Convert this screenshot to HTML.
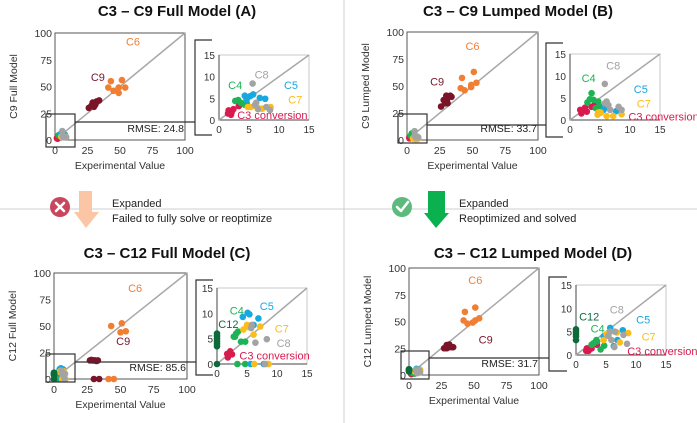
<!DOCTYPE html>
<html><head><meta charset="utf-8"><style>
html,body{margin:0;padding:0;background:#fff;}
svg{display:block;font-family:"Liberation Sans",Arial,sans-serif;}
</style></head><body>
<svg id="fig" width="697" height="423" viewBox="0 0 697 423" xmlns="http://www.w3.org/2000/svg">
<line x1="344" y1="0" x2="344" y2="423" stroke="#cfcfcf" stroke-width="1"/>
<line x1="0" y1="209" x2="697" y2="209" stroke="#cfcfcf" stroke-width="1"/>
<g>
<circle cx="60" cy="207" r="10" fill="#c8465e"/>
<path d="M56 203 L64 211 M64 203 L56 211" stroke="#fff" stroke-width="2.6" stroke-linecap="round"/>
<path d="M79 191 H92 V212 H99 L86 228 L74 212 H79 Z" fill="#fbc6a6"/>
<text x="112" y="207" font-size="11" fill="#222">Expanded</text>
<text x="112" y="222" font-size="11" fill="#222">Failed to fully solve or reoptimize</text>
</g>
<g>
<circle cx="402" cy="207" r="10" fill="#5cba7d"/>
<path d="M397 207 L401 211 L408 202" stroke="#fff" stroke-width="2.6" fill="none" stroke-linecap="round" stroke-linejoin="round"/>
<path d="M428 191 H445 V213 H449 L436 228 L424 213 H428 Z" fill="#0bb04f"/>
<text x="459" y="207" font-size="11" fill="#222">Expanded</text>
<text x="459" y="222" font-size="11" fill="#222">Reoptimized and solved</text>
</g>
</svg>
<script>
// ---------- DATA ----------
const mainTicks = [0,25,50,75,100];
const insetTicks = [0,5,10,15];
const panelTitles = ["C3 – C9 Full Model (A)","C3 – C9 Lumped Model (B)","C3 – C12 Full Model (C)","C3 – C12 Lumped Model (D)"];
const yTitles = ["C9 Full Model","C9 Lumped Model","C12 Full Model","C12 Lumped Model"];
const rmseValues = ["24.8","33.7","85.6","31.7"];

const A_C6 = [[43,55],[41,49],[45,46],[49,49],[49,44],[51.5,56],[54,49]];
const A_C9 = [[26,30],[28,32],[29,35],[31,33],[32,36],[34,37],[30,31]];
const A_C3 = [[1.5,1.5],[1.6,2.2],[2.1,1.8],[2.4,2.5],[3.3,3.2],[2,1.2]];
const A_C4 = [[2.7,4.4],[3.2,4.6],[3.7,3.9],[4.3,3.5],[4.6,3.9]];
const A_C5 = [[4.3,5.6],[5.2,5.5],[5.7,5.9],[6.8,5.1],[7.7,4.9],[4.6,4.7]];
const A_C7 = [[4.8,3.0],[5.3,3.0],[6.1,3.2],[6.5,2.8],[7.2,2.6],[8.6,3.0]];
const A_C8 = [[5.6,8.4],[6.2,4],[6.5,2.5],[7.9,3],[8.5,2.3],[6,3.5]];

const B_C6 = [[42,57.5],[41,48],[44,46],[49,49],[49,51],[51,63],[53,53]];
const B_C9 = [[26,31],[29,37],[30,41],[33,41],[31,34],[28,37],[34,40],[30.5,37],[29,34]];
const B_C3 = [[1.7,2.3],[1.9,1.5],[2.5,2.8],[2.8,1.9],[3.6,3],[4.2,3.6],[2.2,2.1]];
const B_C4 = [[3.6,6.1],[3.3,4.7],[2.9,4],[4.7,4.2],[4.3,2.7],[4.9,3.2],[3.9,4.6]];
const B_C5 = [[5.6,2.3],[7.7,2],[5.1,1.7],[5.8,2.8]];
const B_C7 = [[4.6,1.2],[5.1,1.7],[6.1,0.9],[7.2,0.9],[8.6,1.3],[4.7,1.7]];
const B_C8 = [[5.8,8.2],[6.1,4.2],[6.4,3.4],[8.1,3],[8.6,2.3],[6.7,2.3],[5.8,3.8]];

const C_C6 = [[43,50],[51,52.5],[50,44],[54,45],[41,0],[45,0]];
const C_C9 = [[27,17.5],[29,17.5],[30,17.5],[31,17.5],[32,17],[28,18],[33,17.5],[30,0],[34,0]];
const C_C3 = [[1.7,2],[2.2,2.5],[1.8,1.3],[2.5,1.9]];
const C_C4 = [[2.8,5.4],[3.2,6],[3.5,6.4],[4,4.4],[4.7,4.4],[3,5.4],[3.4,0],[4.7,0]];
const C_C5 = [[4.3,9.3],[5.1,10.1],[5.4,9.8],[6.9,9],[6.1,7.7],[5.6,0],[7.8,0]];
const C_C7 = [[5,7.7],[5.3,7.3],[4.4,6.8],[6.1,5.8],[7.2,7.4],[6.2,0],[8.3,0],[8.6,0]];
const C_C8 = [[5.8,7.7],[5.7,7.1],[6.4,4.2],[8.3,4.9],[8,0]];
const C_C12 = [[0,3.5],[0,4],[0,4.5],[0,5],[0,5.5],[0,6],[0,0]];

const D_C6 = [[43,59],[42,51],[45,48],[49,49],[51,51],[51,63],[54,53]];
const D_C9 = [[27,25],[29,28],[31,26],[33,26],[34,26],[29,25],[31,28.5]];
const D_C3 = [[1.8,1.4],[2.1,0.9],[2.6,1.4],[1.7,0.9],[3.5,2.2]];
const D_C4 = [[3.4,3.2],[2.9,2.5],[2.6,2.2],[4.1,1.2],[4.7,2],[3.5,2.9]];
const D_C5 = [[5.7,5.8],[7.8,5.3],[6.9,3.2],[6.3,1.9],[4.6,4]];
const D_C7 = [[5.1,4.5],[6.8,4.8],[8.7,4.7],[7.3,2.7],[4.6,3.2]];
const D_C8 = [[5.7,5],[6.5,5],[5.9,3.2],[7.9,4.3],[8.5,2.4],[6.4,1.7],[5.4,4.1]];
const D_C12 = [[0,5.5],[0,5],[0,4.5],[0,4],[0,3.2]];

const colors = {C6:"#f07f34",C9:"#7b1428",C3:"#d91a4f",C4:"#1db354",C5:"#17a8e0",C7:"#fbbd1c",C8:"#a3a3a3",C12:"#0d6b3b"};

// ---------- LAYOUT ----------
const panels = [
 {key:"A", tx:177, ty:16, m:{x0:55,x1:185,y0:140,y1:33}, zb:[46,114,75,147], conY:122, br:[195,40,212,135], ins:{x0:219,x1:309,y0:120,y1:55},
  series:{C6:A_C6,C9:A_C9,C3:A_C3,C4:A_C4,C5:A_C5,C7:A_C7,C8:A_C8},
  mainLabels:{C6:[60,92],C9:[33,59]}, insLabels:{C8:[7.1,10.5],C4:[2.7,8.1],C5:[12,8.1],C7:[12.7,4.7],C3:[8.9,1.1]}},
 {key:"B", tx:518, ty:16, m:{x0:407,x1:538,y0:140,y1:32}, zb:[398,114,427,143], conY:125, br:[546,43,563,137], ins:{x0:570,x1:660,y0:120,y1:54},
  series:{C6:B_C6,C9:B_C9,C3:B_C3,C4:B_C4,C5:B_C5,C7:B_C7,C8:B_C8},
  mainLabels:{C6:[50,87],C9:[23,54]}, insLabels:{C8:[7.2,12.4],C4:[3.1,9.5],C5:[11.8,7],C7:[12.3,3.7],C3:[15.6,0.8]}},
 {key:"C", tx:167, ty:258, m:{x0:54,x1:187,y0:379,y1:273}, zb:[46,354,75,382], conY:362, br:[196,280,213,375], ins:{x0:217,x1:307,y0:364,y1:288},
  series:{C6:C_C6,C9:C_C9,C3:C_C3,C4:C_C4,C5:C_C5,C7:C_C7,C8:C_C8,C12:C_C12},
  mainLabels:{C6:[61,86],C9:[52,36]}, insLabels:{C4:[3.3,10.6],C5:[8.3,11.4],C12:[1.9,7.9],C7:[10.8,7],C8:[11.1,4.1],C3:[9.6,1.7]}},
 {key:"D", tx:533, ty:258, m:{x0:409,x1:539,y0:375,y1:268}, zb:[401,351,429,379], conY:358, br:[549,277,567,371], ins:{x0:576,x1:666,y0:355,y1:285},
  series:{C6:D_C6,C9:D_C9,C3:D_C3,C4:D_C4,C5:D_C5,C7:D_C7,C8:D_C8,C12:D_C12},
  mainLabels:{C6:[51,89],C9:[59,33]}, insLabels:{C12:[2.2,8.3],C8:[6.8,9.7],C4:[3.6,5.7],C5:[11.2,7.6],C7:[12.1,4],C3:[14.4,0.9]}}
];

const NS="http://www.w3.org/2000/svg";
const svg=document.getElementById('fig');
function mk(tag,attrs,parent,txt){const e=document.createElementNS(NS,tag);for(const k in attrs)e.setAttribute(k,attrs[k]);if(txt!==undefined)e.textContent=txt;(parent||svg).appendChild(e);return e;}
function scale(d0,d1,r0,r1){return v=>r0+(v-d0)/(d1-d0)*(r1-r0);}
const insetKeys=["C3","C4","C5","C7","C8","C12"];
const insetLabelText={C3:"C3 conversion",C4:"C4",C5:"C5",C7:"C7",C8:"C8",C12:"C12"};

panels.forEach((p,i)=>{
  const g=mk('g',{});
  
  
  const t=mk('text',{x:p.tx,y:p.ty,'text-anchor':'middle','font-size':'15','font-weight':'bold',fill:'#111'},g,panelTitles[i]);
  
  
  const m=p.m, xs=scale(0,100,m.x0,m.x1), ys=scale(0,100,m.y0,m.y1);
  const fr=mk('rect',{x:m.x0,y:m.y1,width:m.x1-m.x0,height:m.y0-m.y1,fill:'none',stroke:'#555','stroke-width':1},g);
  
  
  const dg=mk('line',{x1:xs(0),y1:ys(0),x2:xs(100),y2:ys(100),stroke:'#a8a8a8','stroke-width':1.5},g);
  
  
  mainTicks.forEach(v=>{
    const a=mk('text',{x:xs(v),y:m.y0+14,'text-anchor':'middle','font-size':'10.5',fill:'#333'},g,String(v));
    
    
    const b=mk('text',{x:m.x0-3,y:ys(v)+4,'text-anchor':'end','font-size':'10.5',fill:'#333'},g,String(v));
    
    
  });
  const xl=mk('text',{x:(m.x0+m.x1)/2,y:m.y0+29,'text-anchor':'middle','font-size':'10.5',fill:'#333'},g,'Experimental Value');
  
  
  const yc=(m.y0+m.y1)/2;
  const yl=mk('text',{x:m.x0-38,y:yc,'text-anchor':'middle','font-size':'10.5',fill:'#333',transform:`rotate(-90 ${m.x0-38} ${yc})`},g,yTitles[i]);
  
  
  // points
  Object.keys(p.series).forEach(k=>{
    p.series[k].forEach(pt=>{
      const c=mk('circle',{cx:xs(pt[0]),cy:ys(pt[1]),r:3.3,fill:colors[k]},g);
      
      
    });
  });
  Object.keys(p.mainLabels).forEach(k=>{
    const l=p.mainLabels[k];
    const tx=mk('text',{x:xs(l[0]),y:ys(l[1])+4,'text-anchor':'middle','font-size':'11',fill:colors[k]},g,k);
    
    
  });
  // zoom box + connector + bracket
  const z=p.zb;
  const zr=mk('rect',{x:z[0],y:z[1],width:z[2]-z[0],height:z[3]-z[1],fill:'none',stroke:'#333','stroke-width':1.2},g);
  
  
  const cl=mk('line',{x1:z[2],y1:p.conY,x2:p.br[0],y2:p.conY,stroke:'#333','stroke-width':1.2},g);
  
  
  const br=p.br;
  const bp=mk('path',{d:`M${br[2]} ${br[1]} H${br[0]} V${br[3]} H${br[2]}`,fill:'none',stroke:'#333','stroke-width':1.2},g);
  
  
  const rm=mk('text',{x:m.x1-1,y:m.y0-8,'text-anchor':'end','font-size':'10.5',fill:'#222'},g,'RMSE: '+rmseValues[i]);
  
  
  // inset
  const n=p.ins, ix=scale(0,15,n.x0,n.x1), iy=scale(0,15,n.y0,n.y1);
  const ib=mk('rect',{x:n.x0,y:n.y1,width:n.x1-n.x0,height:n.y0-n.y1,fill:'none',stroke:'#bbb','stroke-width':0.8},g);
  
  
  const ia=mk('path',{d:`M${n.x0} ${n.y1} V${n.y0} H${n.x1}`,fill:'none',stroke:'#444','stroke-width':1},g);
  
  
  const id=mk('line',{x1:ix(0),y1:iy(0),x2:ix(15),y2:iy(15),stroke:'#a8a8a8','stroke-width':1.5},g);
  
  
  insetTicks.forEach(v=>{
    const a=mk('text',{x:ix(v),y:n.y0+13,'text-anchor':'middle','font-size':'10',fill:'#333'},g,String(v));
    
    
    const b=mk('text',{x:n.x0-4,y:iy(v)+4,'text-anchor':'end','font-size':'10',fill:'#333'},g,String(v));
    
    
  });
  insetKeys.forEach(k=>{
    if(!p.series[k])return;
    p.series[k].forEach(pt=>{
      const c=mk('circle',{cx:ix(pt[0]),cy:iy(pt[1]),r:3.3,fill:colors[k]},g);
      
      
    });
  });
  Object.keys(p.insLabels).forEach(k=>{
    const l=p.insLabels[k];
    const tx=mk('text',{x:ix(l[0]),y:iy(l[1])+4,'text-anchor':'middle','font-size':'11',fill:colors[k]},g,insetLabelText[k]);
    
    
  });
});
</script>
</body></html>
